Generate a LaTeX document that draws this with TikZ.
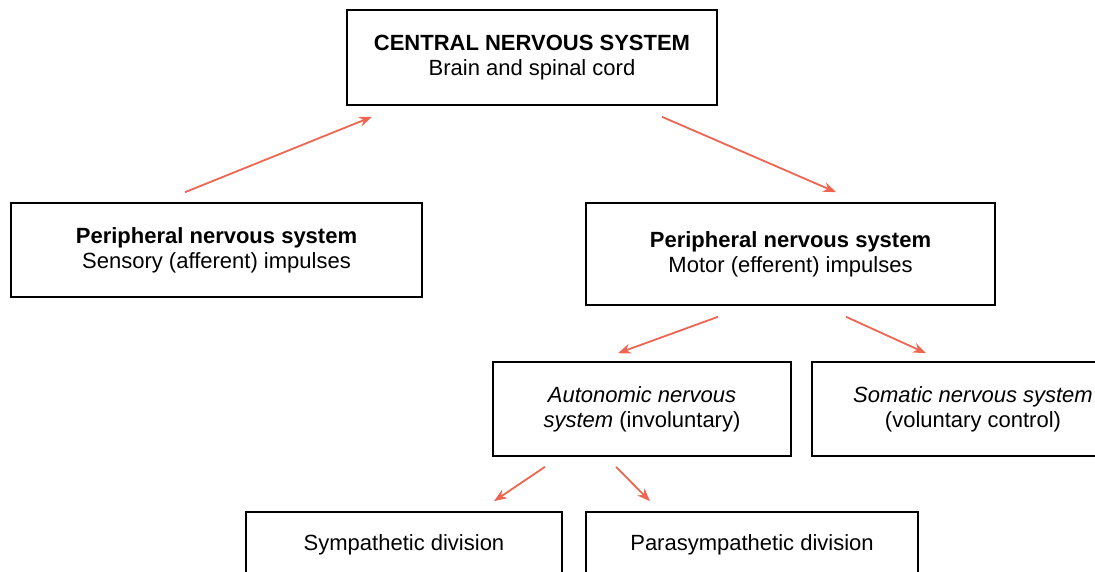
\documentclass[tikz,border=0pt]{standalone}
\usepackage{fontspec}
\setmainfont{Liberation Sans}
\usepackage{tikz}
\usetikzlibrary{arrows.meta,calc}

\definecolor{arrowred}{RGB}{238,102,82}

\tikzset{
    nbox/.style={draw=black, line width=1.6pt, inner sep=0pt, align=center,
        font=\fontsize{22}{25}\selectfont},
    flow/.style={draw=arrowred, line width=1.8pt,
        -{Stealth[length=13pt,width=10pt]}}
}

\begin{document}
\begin{tikzpicture}[x=1pt, y=-1pt]
    \clip (0,0) rectangle (1095,572);
    \useasboundingbox (0,0) rectangle (1095,572);

    % Boxes
    \node[nbox, minimum width=370pt, minimum height=95pt] (cns) at (532,57.5)
        {\textbf{CENTRAL NERVOUS SYSTEM}\\Brain and spinal cord};
    \node[nbox, minimum width=411pt, minimum height=94pt] (lpns) at (216.5,250)
        {\textbf{Peripheral nervous system}\\Sensory (afferent) impulses};
    \node[nbox, minimum width=409pt, minimum height=102pt] (rpns) at (790.5,254)
        {\textbf{Peripheral nervous system}\\Motor (efferent) impulses};
    \node[nbox, minimum width=298pt, minimum height=94pt] (auto) at (642,409)
        {\textit{Autonomic nervous}\\\textit{system} (involuntary)};
    \node[nbox, minimum width=322pt, minimum height=94pt] (soma) at (973,409)
        {\textit{Somatic nervous system}\\(voluntary control)};
    \node[nbox, minimum width=316pt, minimum height=66pt] (symp) at (404,545)
        {Sympathetic division};
    \node[nbox, minimum width=332pt, minimum height=66pt] (para) at (752,545)
        {Parasympathetic division};

    % Arrows
    \draw[flow] ($(lpns.north)+(-31.5,-10)$) -- ($(cns.south)+(-160,11)$);
    \draw[flow] ($(cns.south)+(130,11)$) -- ($(rpns.north)+(45.5,-10)$);
    \draw[flow] ($(rpns.south)+(-72.5,11)$) -- ($(auto.north)+(-24,-8)$);
    \draw[flow] ($(rpns.south)+(55.5,11)$) -- ($(soma.north)+(-47,-8)$);
    \draw[flow] ($(auto.south)+(-97,10)$) -- ($(symp.north)+(90,-10)$);
    \draw[flow] ($(auto.south)+(-26,10)$) -- ($(para.north)+(-102,-10)$);
\end{tikzpicture}
\end{document}
